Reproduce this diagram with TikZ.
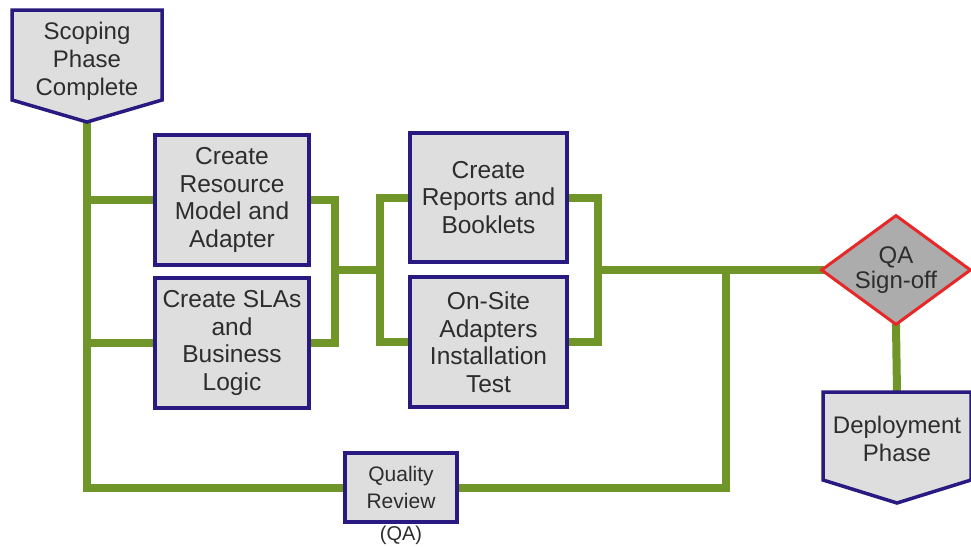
\documentclass[tikz,border=0pt]{standalone}
\usepackage{fontspec}
\setmainfont{Liberation Sans}
\usetikzlibrary{shapes.geometric,calc,backgrounds}

\definecolor{flowgreen}{RGB}{112,150,42}
\definecolor{boxnavy}{RGB}{40,26,128}
\definecolor{boxfill}{RGB}{222,222,222}
\definecolor{gatefill}{RGB}{172,172,172}
\definecolor{gatered}{RGB}{232,40,40}
\definecolor{inktext}{RGB}{45,45,45}

\tikzset{
  taskbox/.style={rectangle, draw=boxnavy, line width=3.5pt, fill=boxfill,
    inner sep=0pt, align=center, text=inktext,
    font=\fontsize{24.5}{27.5}\selectfont},
  phasetext/.style={inner sep=0pt, align=center, text=inktext,
    font=\fontsize{24}{28}\selectfont},
  phaseshape/.style={draw=boxnavy, line width=3.5pt, fill=boxfill, line join=miter},
  gate/.style={diamond, draw=gatered, line width=3pt, fill=gatefill,
    inner sep=0pt, aspect=1.36, minimum width=150pt, minimum height=110pt,
    align=center, text=inktext, font=\fontsize{24}{25}\selectfont},
  flow/.style={draw=flowgreen, line width=8pt, line join=miter, line cap=rect},
  caption/.style={inner sep=0pt, text=inktext, font=\fontsize{20}{24}\selectfont}
}

\begin{document}
\begin{tikzpicture}[x=1pt,y=-1pt]
\useasboundingbox (0,0) rectangle (971,546);

% entry and exit phases (text nodes; pentagon outlines drawn behind)
\node[phasetext] (scope) at (87,61) {Scoping\\Phase\\Complete};
\node[phasetext] (deploy) at (897,439) {Deployment\\Phase};

% work packages
\node[taskbox, minimum width=154pt, minimum height=130pt] (b1) at (232,200)
  {Create\\Resource\\Model and\\Adapter};
\node[taskbox, minimum width=154pt, minimum height=130pt] (b2) at (232,343)
  {Create SLAs\\and\\Business\\Logic};
\node[taskbox, minimum width=157pt, minimum height=129pt] (b3) at (488.5,197.5)
  {Create\\Reports and\\Booklets};
\node[taskbox, minimum width=157pt, minimum height=130pt] (b4) at (488.5,342)
  {On-Site\\Adapters\\Installation\\Test};
\node[taskbox, minimum width=112pt, minimum height=69pt,
  font=\fontsize{21}{27}\selectfont] (qa) at (401,487.5) {Quality\\Review};
\node[caption, anchor=north] (qacap) at (401,526) {(QA)};

% sign-off gate
\node[gate] (signoff) at (896,270) {QA\\Sign-off};

% junction points of the flow lines
\coordinate (scopetip) at ($(scope.center)+(0,61)$);
\coordinate (deploytop) at ($(deploy.center)+(0,-47)$);
\coordinate (j1) at (335,270);
\coordinate (j2) at (380,270);
\coordinate (j3) at (598,270);
\coordinate (j4) at (726,270);

\begin{scope}[on background layer]
  % flow lines
  \draw[flow] (scopetip) |- (qa.west);
  \draw[flow] (b1.west) -- (b1.west -| scopetip);
  \draw[flow] (b2.west) -- (b2.west -| scopetip);
  \draw[flow] (b1.east) -| (j1) |- (b2.east);
  \draw[flow] (j1) -- (j2);
  \draw[flow] (b3.west) -| (j2) |- (b4.west);
  \draw[flow] (b3.east) -| (j3) |- (b4.east);
  \draw[flow] (j3) -- (signoff.west);
  \draw[flow] (qa.east) -| (j4);
  \draw[flow] (signoff.south) -- (deploytop);
  % pentagon outlines of the phases
  \draw[phaseshape] ($(scope.center)+(-75,-51)$) -- ($(scope.center)+(75,-51)$)
    -- ($(scope.center)+(75,39)$) -- (scopetip)
    -- ($(scope.center)+(-75,39)$) -- cycle;
  \draw[phaseshape] ($(deploy.center)+(-74,-47)$) -- ($(deploy.center)+(74,-47)$)
    -- ($(deploy.center)+(74,41)$) -- ($(deploy.center)+(0,64)$)
    -- ($(deploy.center)+(-74,41)$) -- cycle;
\end{scope}
\end{tikzpicture}
\end{document}
